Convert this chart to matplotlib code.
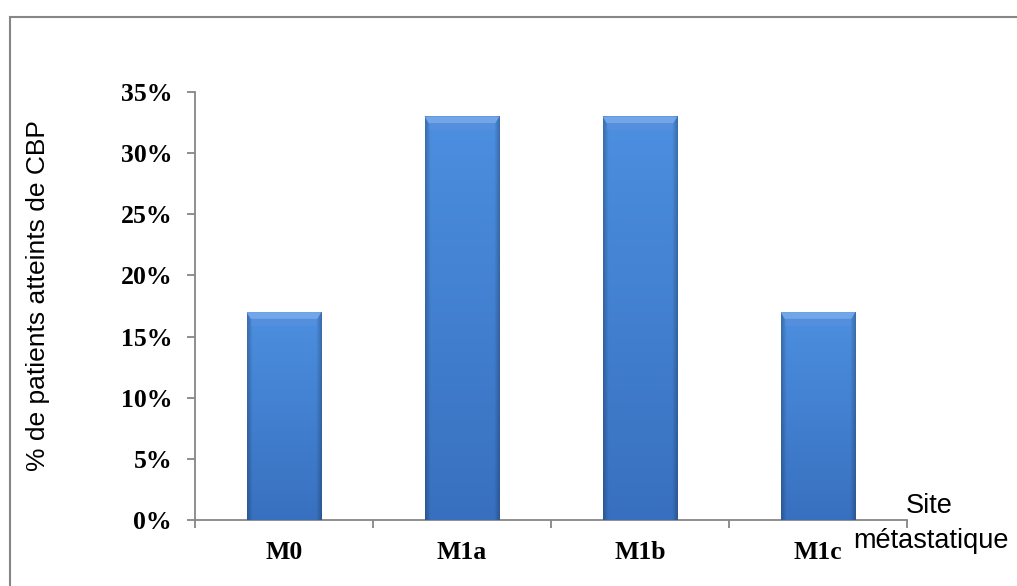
import numpy as np
import matplotlib
matplotlib.use("Agg")
import matplotlib.pyplot as plt
from matplotlib.patches import Rectangle, Polygon

# data
categories = ["M0", "M1a", "M1b", "M1c"]
percents = [0.17, 0.33, 0.33, 0.17]
yticks = [0, 0.05, 0.10, 0.15, 0.20, 0.25, 0.30, 0.35]
ytick_labels = ["0%", "5%", "10%", "15%", "20%", "25%", "30%", "35%"]

W, H = 1017, 586
GRAY = "#868686"
SERIF = "Liberation Serif"
SANS = "Liberation Sans"

fig = plt.figure(figsize=(W / 100, H / 100), dpi=100)
ax = fig.add_axes([195 / W, 1 - 520 / H, (907 - 195) / W, (520 - 92) / H])

x = np.arange(len(categories))
bars = ax.bar(x, percents, width=0.42, color="#3f78c6", zorder=2)

# shaded bars: vertical gradient, darker sides, light top bevel
ny, nx = 200, 60
top_c = np.array([0.30, 0.56, 0.88])
bot_c = np.array([0.22, 0.44, 0.75])
t = np.linspace(0, 1, ny)[:, None, None]
u = np.linspace(0, 1, nx)
edge = np.clip(1 - np.minimum(u, 1 - u) / 0.07, 0, 1)
shade = (1 - 0.22 * edge)[None, :, None]
img = (top_c * (1 - t) + bot_c * t) * shade

for rect in bars:
    x0, w, h = rect.get_x(), rect.get_width(), rect.get_height()
    ax.imshow(img, extent=(x0, x0 + w, 0, h), aspect="auto", zorder=3,
              interpolation="bilinear")
    d = w * 0.055
    bh = 0.0055
    ax.add_patch(Polygon([(x0, h), (x0 + w, h), (x0 + w - d, h - bh), (x0 + d, h - bh)],
                         closed=True, facecolor="#72a6e8", edgecolor="none", zorder=4))
    ax.add_patch(Polygon([(x0 + d, h - bh), (x0 + w - d, h - bh),
                          (x0 + w - d, h - 2 * bh), (x0 + d, h - 2 * bh)],
                         closed=True, facecolor="#5a91dc", edgecolor="none", zorder=4, alpha=0.6))

ax.set_xlim(-0.5, len(categories) - 0.5)
ax.set_ylim(0, 0.35)

for s in ["top", "right"]:
    ax.spines[s].set_visible(False)
for s in ["left", "bottom"]:
    ax.spines[s].set_color(GRAY)
    ax.spines[s].set_linewidth(1.3)

ax.set_yticks(yticks)
ax.set_yticklabels(ytick_labels, fontfamily=SERIF, fontweight="bold", fontsize=18.5)
ax.tick_params(axis="y", direction="out", length=5.5, width=1.3, color=GRAY, pad=11)

ax.set_xticks(np.arange(-0.5, len(categories)), labels=[])
ax.set_xticks(x, labels=categories, minor=True)
ax.tick_params(axis="x", which="major", direction="out", length=5.5, width=1.3, color=GRAY)
ax.tick_params(axis="x", which="minor", length=0, pad=15)
for lab in ax.get_xticklabels(minor=True):
    lab.set_fontfamily(SERIF)
    lab.set_fontweight("bold")
    lab.set_fontsize(18.5)

fig.text(38 / W, 1 - 296 / H, "% de patients atteints de CBP", rotation=90,
         ha="center", va="center", fontfamily=SANS, fontsize=19)
fig.text(906 / W, 1 - 513 / H, "Site", ha="left", va="baseline",
         fontfamily=SANS, fontsize=19.5)
fig.text(853 / W, 1 - 548 / H, "métastatique", ha="left", va="baseline",
         fontfamily=SANS, fontsize=19.5)

# chart area border (only left and top edges fall inside the picture)
fig.patches.append(Rectangle((10 / W, -0.2), 2, 1.2 - 17 / H, transform=fig.transFigure,
                             fill=False, edgecolor=GRAY, linewidth=1.5))

fig.savefig("out.png", dpi=100)
